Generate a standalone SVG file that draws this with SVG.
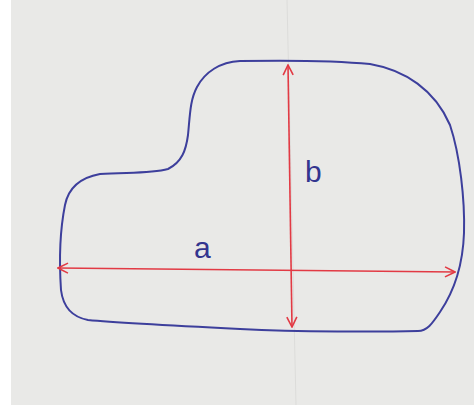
<svg xmlns="http://www.w3.org/2000/svg" width="474" height="407" viewBox="0 0 474 407">
<style>
.outline{fill:none;stroke:#3d3f9c;stroke-width:2;stroke-linejoin:round}
.dim{fill:none;stroke:#e23a44;stroke-width:1.6}
.lbl{font-family:"Liberation Sans",Arial,sans-serif;fill:#33358f;font-size:30px}
</style>
<defs>
<marker id="ah" viewBox="0 0 12 12" refX="11" refY="6" markerWidth="12" markerHeight="12" markerUnits="userSpaceOnUse" orient="auto-start-reverse">
<path d="M1,1 L11,6 L1,11" fill="none" stroke="#e23a44" stroke-width="1.6"/>
</marker>
</defs>
<rect x="0" y="0" width="474" height="407" fill="#ffffff"/>
<rect x="11" y="0" width="463" height="405" fill="#e9e9e7"/>
<line x1="287" y1="0" x2="296" y2="405" stroke="#dcdcda" stroke-width="1"/>
<g id="shape">
<path class="outline" d="M240,61 C300,60 340,61 370,64 C405,70 435,90 450,125 C460,155 465,200 464,233 C463,262 455,290 440,312 C432,324 427,331 418,331 C380,332 300,332 240,329 C180,326 120,323 88,320 C72,317 63,306 61,290 C59,260 60,230 65,205 C68,190 78,178 100,174 C125,172 150,174 168,169 C182,162 186,150 188,135 C190,115 190,100 197,87 C205,72 220,62 240,61 Z"/>
</g>
<g id="connectors">
<line class="dim" x1="58" y1="268" x2="455" y2="272" marker-start="url(#ah)" marker-end="url(#ah)"/>
<line class="dim" x1="288" y1="65" x2="292" y2="327" marker-start="url(#ah)" marker-end="url(#ah)"/>
</g>
<g id="label-a"><text class="lbl" x="194" y="258">a</text></g>
<g id="label-b"><text class="lbl" x="305" y="182">b</text></g>
</svg>
